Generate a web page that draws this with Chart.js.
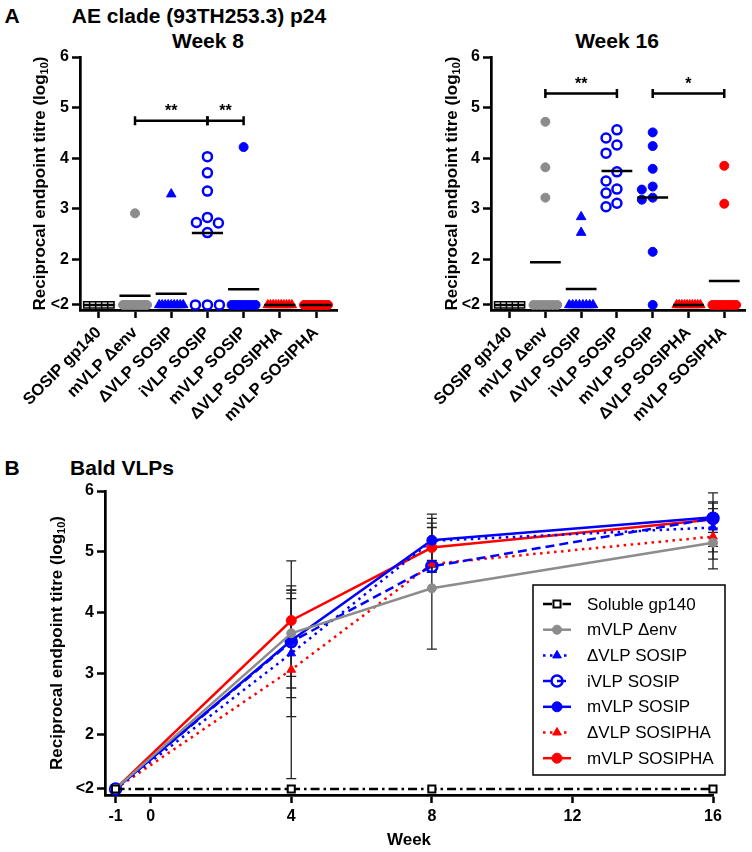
<!DOCTYPE html>
<html>
<head>
<meta charset="utf-8">
<script src="https://cdn.jsdelivr.net/npm/chart.js@4.4.1/dist/chart.umd.min.js"></script>
<style>
body { margin: 0; background: #fff; width: 752px; height: 852px; position: relative; overflow: hidden; font-family: "Liberation Sans", Arial, sans-serif; }
.t { position: absolute; font-weight: bold; font-size: 21px; white-space: nowrap; line-height: 1; transform: translate(-50%, -50%); }
.box { position: absolute; }
</style>
</head>
<body>
<div class="t" style="left:12px;top:15px">A</div>
<div class="t" style="left:199px;top:15px">AE clade (93TH253.3) p24</div>
<div class="t" style="left:208px;top:40px">Week 8</div>
<div class="t" style="left:617px;top:40px">Week 16</div>
<div class="t" style="left:12px;top:467px">B</div>
<div class="t" style="left:122px;top:467px">Bald VLPs</div>

<div class="box" style="left:0;top:0;width:380px;height:455px"><canvas id="week8"></canvas></div>
<div class="box" style="left:380px;top:0;width:372px;height:455px"><canvas id="week16"></canvas></div>
<div class="box" style="left:0;top:455px;width:752px;height:397px"><canvas id="bald"></canvas></div>

<script>
const FONT = '"Liberation Sans", Arial, sans-serif';

// below the detection limit titres are plotted on the "<2" line
const LOD = 1.1;
const yTickValues = [LOD, 2, 3, 4, 5, 6];

const groups = ['SOSIP gp140', 'mVLP Δenv', 'ΔVLP SOSIP', 'iVLP SOSIP', 'mVLP SOSIP', 'ΔVLP SOSIPHA', 'mVLP SOSIPHA'];

// panel A, week 8: detected titres (log10) and number of animals below the limit
const week8Detected = [[], [2.91], [3.29], [4.03, 3.71, 3.35, 2.83, 2.73, 2.72, 2.53], [4.22], [], []];
const week8Undetected = [5, 9, 9, 3, 9, 10, 10];
const week8Brackets = [[1, 3, 4.74, '**'], [3, 4, 4.74, '**']];

// panel A, week 16
const week16Detected = [[], [4.72, 3.82, 3.22], [2.84, 2.53], [4.56, 4.40, 4.26, 4.10, 3.73, 3.55, 3.39, 3.31, 3.11, 3.04], [4.51, 4.24, 3.79, 3.44, 3.38, 3.22, 3.18, 2.15], [], [3.85, 3.10]];
const week16Undetected = [5, 7, 8, 0, 1, 10, 8];
const week16Brackets = [[1, 3, 5.28, '**'], [4, 6, 5.28, '*']];

// panel B: mean titres and SD per week
const weeks = [-1, 4, 8, 16];
const weekTicks = [-1, 0, 4, 8, 12, 16];
const seriesNames = ['Soluble gp140', 'mVLP Δenv', 'ΔVLP SOSIP', 'iVLP SOSIP', 'mVLP SOSIP', 'ΔVLP SOSIPHA', 'mVLP SOSIPHA'];
const gp140Mean = [LOD, LOD, LOD, LOD];
const gp140Sd = [null, null, null, null];
const mvlpEnvMean = [LOD, 3.66, 4.40, 5.15];
const mvlpEnvSd = [null, 0.71, 1.00, 0.43];
const dvlpSosipMean = [LOD, 3.33, 5.18, 5.40];
const dvlpSosipSd = [null, 1.04, 0.37, 0.40];
const ivlpSosipMean = [LOD, 3.52, 4.76, 5.55];
const ivlpSosipSd = [null, 0.92, 0.10, 0.16];
const mvlpSosipMean = [LOD, 3.54, 5.19, 5.57];
const mvlpSosipSd = [null, 0.78, 0.43, 0.25];
const dvlpSosiphaMean = [LOD, 3.06, 4.80, 5.25];
const dvlpSosiphaSd = [null, 1.79, 0.05, 0.37];
const mvlpSosiphaMean = [LOD, 3.87, 5.07, 5.53];
const mvlpSosiphaSd = [null, 0.36, 0.40, 0.44];

const BLUE = '#0000ff', RED = '#ff0000', GREY = '#8c8c8c';

Chart.defaults.font.family = FONT;
Chart.defaults.color = '#000';
Chart.defaults.animation = false;

// marker look per group, panel A
const groupStyles = [
    { pointStyle: 'rect', radius: 4.5, bg: '#fff', border: '#000', bw: 1.5 },
    { pointStyle: 'circle', radius: 4.5, bg: GREY, border: GREY, bw: 1 },
    { pointStyle: 'triangle', radius: 5.5, bg: BLUE, border: BLUE, bw: 1 },
    { pointStyle: 'circle', radius: 4.5, bg: '#fff', border: BLUE, bw: 2.5 },
    { pointStyle: 'circle', radius: 4.5, bg: BLUE, border: BLUE, bw: 1 },
    { pointStyle: 'triangle', radius: 5.5, bg: RED, border: RED, bw: 1 },
    { pointStyle: 'circle', radius: 4.5, bg: RED, border: RED, bw: 1 }
];

const PX_PER_CAT = 36.2, PX_PER_UNIT = 50.6, STEP = 11, DIAM = 10;

// simple beeswarm: detected values get columns, values on the limit get a compact row
function swarm(values, nBelow) {
    const placed = [];
    values.slice().sort((a, b) => b - a).forEach(v => {
        for (let k = 0; k < 9; k++) {
            const col = k === 0 ? 0 : (k % 2 ? -(k + 1) / 2 : k / 2);
            const ok = placed.every(p => Math.hypot((col - p.col) * STEP, (v - p.v) * PX_PER_UNIT) >= DIAM);
            if (ok) { placed.push({ col, v }); break; }
        }
    });
    const pts = placed.map(p => ({ dx: p.col * STEP / PX_PER_CAT, y: p.v }));
    const gap = nBelow > 1 ? Math.min(12, 24 / (nBelow - 1)) : 0;
    for (let i = 0; i < nBelow; i++) pts.push({ dx: (i - (nBelow - 1) / 2) * gap / PX_PER_CAT, y: LOD });
    return pts;
}

const yTitle = {
    id: 'yTitle',
    afterDraw(chart, args, opts) {
        const { ctx, chartArea } = chart;
        const cy = (chartArea.top + chartArea.bottom) / 2;
        const big = `bold ${opts.size}px ${FONT}`, small = `bold ${Math.round(opts.size * 0.62)}px ${FONT}`;
        const main = 'Reciprocal endpoint titre (log';
        ctx.save();
        ctx.translate(opts.x, cy);
        ctx.rotate(-Math.PI / 2);
        ctx.fillStyle = '#000';
        ctx.textBaseline = 'middle';
        ctx.font = big; const w1 = ctx.measureText(main).width; const w3 = ctx.measureText(')').width;
        ctx.font = small; const w2 = ctx.measureText('10').width;
        let x = -(w1 + w2 + w3) / 2;
        ctx.font = big; ctx.fillText(main, x, 0); x += w1;
        ctx.font = small; ctx.fillText('10', x, opts.size * 0.28); x += w2;
        ctx.font = big; ctx.fillText(')', x, 0);
        ctx.restore();
    }
};

const brackets = {
    id: 'brackets',
    afterDatasetsDraw(chart, args, opts) {
        const { ctx, scales: { x, y } } = chart;
        ctx.save();
        ctx.strokeStyle = '#000';
        ctx.fillStyle = '#000';
        ctx.lineWidth = 2.5;
        ctx.font = `bold 16px ${FONT}`;
        ctx.textAlign = 'center';
        ctx.textBaseline = 'middle';
        (opts.list || []).forEach(([a, b, level, label]) => {
            const xa = x.getPixelForValue(a), xb = x.getPixelForValue(b), yy = y.getPixelForValue(level);
            ctx.beginPath();
            ctx.moveTo(xa, yy); ctx.lineTo(xb, yy);
            ctx.moveTo(xa, yy - 4.5); ctx.lineTo(xa, yy + 4.5);
            ctx.moveTo(xb, yy - 4.5); ctx.lineTo(xb, yy + 4.5);
            ctx.stroke();
            ctx.fillText(label, (xa + xb) / 2, yy - 9);
        });
        ctx.restore();
    }
};

function axisGrid() {
    return { display: true, drawOnChartArea: false, drawTicks: true, tickLength: 8, tickWidth: 2.5, tickColor: '#000' };
}

function yAxis(width) {
    return {
        min: 1.0, max: 6,
        afterBuildTicks: s => { s.ticks = yTickValues.map(v => ({ value: v })); },
        afterFit: s => { s.width = width; },
        ticks: { callback: v => (v === LOD ? '<2' : v), font: { size: 16, weight: 'bold' }, padding: 3 },
        grid: axisGrid(),
        border: { display: true, color: '#000', width: 2.7 }
    };
}

function scatterChart(id, detected, undetected, bracketList, yWidth, padRight, titleX) {
    const datasets = [];
    const meanData = [];
    groups.forEach((g, i) => {
        const pts = swarm(detected[i], undetected[i]);
        const st = groupStyles[i];
        datasets.push({
            type: 'scatter',
            label: g,
            data: pts.map(p => ({ x: i + p.dx, y: p.y })),
            pointStyle: st.pointStyle,
            pointRadius: st.radius,
            pointBackgroundColor: st.bg,
            pointBorderColor: st.border,
            pointBorderWidth: st.bw,
            clip: false
        });
        const mean = pts.reduce((s, p) => s + p.y, 0) / pts.length;
        meanData.push({ x: i - 0.43, y: mean }, { x: i + 0.43, y: mean }, { x: i, y: null });
    });
    datasets.push({
        type: 'line', label: 'mean', data: meanData, borderColor: '#000', borderWidth: 2.5,
        pointRadius: 0, spanGaps: false, order: -1, clip: false
    });
    return new Chart(document.getElementById(id), {
        type: 'scatter',
        data: { datasets },
        options: {
            responsive: true,
            maintainAspectRatio: false,
            layout: { padding: { top: 57, right: padRight, left: 0, bottom: 0 } },
            plugins: { legend: { display: false }, tooltip: { enabled: false }, yTitle: { x: titleX, size: 17 }, brackets: { list: bracketList } },
            scales: {
                x: {
                    type: 'linear', min: -0.52, max: 6.58,
                    afterBuildTicks: s => { s.ticks = groups.map((_, i) => ({ value: i })); },
                    afterFit: s => { s.height = 145; },
                    ticks: { callback: v => groups[v], autoSkip: false, minRotation: 45, maxRotation: 45, font: { size: 16.5, weight: 'bold' }, padding: 5 },
                    grid: axisGrid(),
                    border: { display: true, color: '#000', width: 2.7 }
                },
                y: yAxis(yWidth)
            }
        },
        plugins: [yTitle, brackets]
    });
}

scatterChart('week8', week8Detected, week8Undetected, week8Brackets, 80, 43, 40);
scatterChart('week16', week16Detected, week16Undetected, week16Brackets, 111, 5, 72);

// ---------- panel B ----------
const DOTS = [2.5, 4.5];
const seriesStyles = [
    { mean: gp140Mean, sd: gp140Sd, color: '#000', dash: [9, 4, 2.5, 4], pointStyle: 'rect', radius: 5, bg: '#fff', bw: 2 },
    { mean: mvlpEnvMean, sd: mvlpEnvSd, color: GREY, dash: [], pointStyle: 'circle', radius: 4.5, bg: GREY, bw: 1 },
    { mean: dvlpSosipMean, sd: dvlpSosipSd, color: BLUE, dash: DOTS, pointStyle: 'triangle', radius: 5, bg: BLUE, bw: 1 },
    { mean: ivlpSosipMean, sd: ivlpSosipSd, color: BLUE, dash: [9, 5], pointStyle: 'circle', radius: 5.5, bg: 'rgba(0,0,0,0)', bw: 2.5 },
    { mean: mvlpSosipMean, sd: mvlpSosipSd, color: BLUE, dash: [], pointStyle: 'circle', radius: 5, bg: BLUE, bw: 1 },
    { mean: dvlpSosiphaMean, sd: dvlpSosiphaSd, color: RED, dash: DOTS, pointStyle: 'triangle', radius: 5, bg: RED, bw: 1 },
    { mean: mvlpSosiphaMean, sd: mvlpSosiphaSd, color: RED, dash: [], pointStyle: 'circle', radius: 5, bg: RED, bw: 1 }
];

const errorBars = {
    id: 'errorBars',
    beforeDatasetsDraw(chart) {
        const { ctx, scales: { x, y } } = chart;
        ctx.save();
        ctx.strokeStyle = '#222';
        ctx.lineWidth = 1.3;
        chart.data.datasets.forEach(ds => {
            ds.data.forEach((p, i) => {
                const sd = ds.sd[i];
                if (sd == null) return;
                const px = x.getPixelForValue(p.x);
                const top = y.getPixelForValue(p.y + sd), bot = y.getPixelForValue(p.y - sd);
                ctx.beginPath();
                ctx.moveTo(px, top); ctx.lineTo(px, bot);
                ctx.moveTo(px - 5, top); ctx.lineTo(px + 5, top);
                ctx.moveTo(px - 5, bot); ctx.lineTo(px + 5, bot);
                ctx.stroke();
            });
        });
        ctx.restore();
    }
};

const lineLegend = {
    id: 'lineLegend',
    afterDraw(chart) {
        const { ctx, chartArea } = chart;
        const bx = chartArea.right - 180, by = chartArea.top + 94, bw = 192, bh = 190;
        ctx.save();
        ctx.fillStyle = '#fff';
        ctx.fillRect(bx, by, bw, bh);
        ctx.strokeStyle = '#000';
        ctx.lineWidth = 1.5;
        ctx.strokeRect(bx, by, bw, bh);
        chart.data.datasets.forEach((ds, i) => {
            const cy = by + 19 + i * 25.7;
            ctx.strokeStyle = ds.borderColor;
            ctx.lineWidth = ds.borderWidth;
            ctx.setLineDash(ds.borderDash);
            ctx.beginPath();
            ctx.moveTo(bx + 10, cy); ctx.lineTo(bx + 38, cy);
            ctx.stroke();
            ctx.setLineDash([]);
            ctx.fillStyle = ds.pointBackgroundColor;
            ctx.strokeStyle = ds.pointBorderColor;
            ctx.lineWidth = ds.pointBorderWidth;
            Chart.helpers.drawPoint(ctx, { pointStyle: ds.pointStyle, radius: ds.pointRadius, rotation: 0, borderWidth: ds.pointBorderWidth }, bx + 24, cy);
            ctx.fillStyle = '#000';
            ctx.font = `17px ${FONT}`;
            ctx.textBaseline = 'middle';
            ctx.textAlign = 'left';
            ctx.fillText(ds.label, bx + 54, cy + 1);
        });
        ctx.restore();
    }
};

new Chart(document.getElementById('bald'), {
    type: 'line',
    data: {
        datasets: seriesStyles.map((s, i) => ({
            label: seriesNames[i],
            data: weeks.map((w, j) => ({ x: w, y: s.mean[j] })),
            sd: s.sd,
            borderColor: s.color,
            borderWidth: 2.5,
            borderDash: s.dash,
            pointStyle: s.pointStyle,
            pointRadius: s.radius,
            pointBackgroundColor: s.bg,
            pointBorderColor: s.color,
            pointBorderWidth: s.bw,
            tension: 0,
            clip: false
        }))
    },
    options: {
        responsive: true,
        maintainAspectRatio: false,
        layout: { padding: { top: 36, right: 39, left: 0, bottom: 0 } },
        plugins: { legend: { display: false }, tooltip: { enabled: false }, yTitle: { x: 57, size: 17 } },
        scales: {
            x: {
                type: 'linear', min: -1.3, max: 16,
                afterBuildTicks: s => { s.ticks = weekTicks.map(v => ({ value: v })); },
                afterFit: s => { s.height = 57; },
                ticks: { font: { size: 16, weight: 'bold' }, padding: 4 },
                grid: axisGrid(),
                border: { display: true, color: '#000', width: 2.7 },
                title: { display: true, text: 'Week', font: { size: 17, weight: 'bold' }, padding: { top: 0, bottom: 1 } }
            },
            y: yAxis(105)
        }
    },
    plugins: [errorBars, yTitle, lineLegend]
});
</script>
</body>
</html>
